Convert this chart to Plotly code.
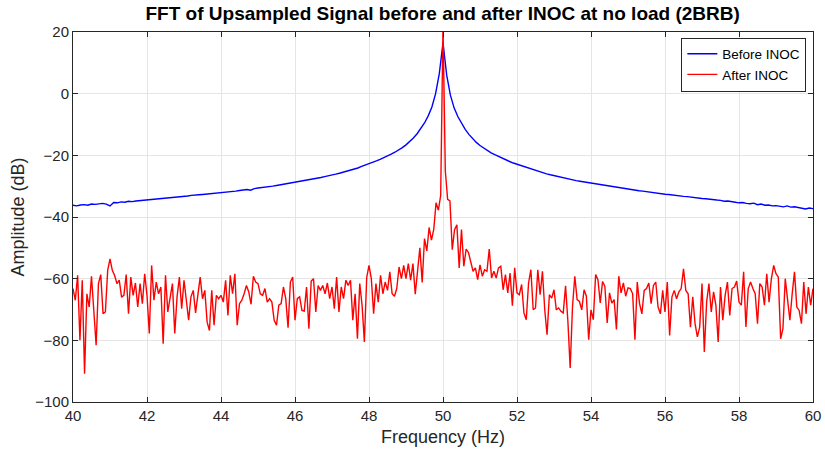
import numpy as np
import plotly.graph_objects as go

# Before INOC (blue), 0.1 Hz bins from 40 to 60 Hz
before_db = [
    -36.2, -36.4, -36.1, -36.0, -36.2, -35.8, -35.9, -35.7, -35.6, -35.8,
    -36.4, -35.3, -35.4, -35.1, -35.2, -34.9, -35.0, -34.8, -34.7, -34.6,
    -34.4, -34.3, -34.3, -34.1, -34.0, -33.9, -33.8, -33.6, -33.6, -33.4,
    -33.3, -33.2, -33.0, -33.0, -32.8, -32.7, -32.6, -32.4, -32.4, -32.2,
    -32.1, -32.0, -31.8, -31.8, -31.6, -31.4, -31.3, -31.1, -31.3, -30.8,
    -30.6, -30.5, -30.3, -30.1, -30.0, -29.8, -29.6, -29.4, -29.2, -29.0,
    -28.8, -28.6, -28.4, -28.1, -27.9, -27.7, -27.4, -27.2, -26.9, -26.7,
    -26.4, -26.1, -25.8, -25.5, -25.2, -24.9, -24.5, -24.1, -23.6, -23.2,
    -22.7, -22.3, -21.8, -21.3, -20.8, -20.2, -19.6, -19.0, -18.3, -17.5,
    -16.6, -15.6, -14.4, -13.0, -11.4, -9.5, -7.2, -4.3, 0.0, 6.5,
    16.5,
    6.0, -0.5, -4.6, -7.4, -9.7, -11.6, -13.2, -14.6, -15.8, -16.8,
    -17.7, -18.5, -19.2, -19.8, -20.4, -21.0, -21.5, -22.0, -22.5, -22.9,
    -23.4, -23.8, -24.2, -24.6, -25.0, -25.4, -25.7, -26.0, -26.3, -26.6,
    -26.9, -27.2, -27.4, -27.7, -27.9, -28.2, -28.4, -28.6, -28.9, -29.1,
    -29.3, -29.5, -29.7, -29.9, -30.1, -30.3, -30.5, -30.6, -30.8, -31.0,
    -31.2, -31.3, -31.5, -31.6, -31.8, -32.0, -32.1, -32.3, -32.5, -32.6,
    -32.7, -32.9, -33.0, -33.2, -33.3, -33.4, -33.6, -33.7, -33.8, -34.0,
    -34.1, -34.3, -34.4, -34.5, -34.6, -34.9, -34.8, -35.1, -35.2, -35.4,
    -35.3, -35.6, -35.7, -35.5, -36.0, -35.8, -36.2, -36.1, -36.4, -36.3,
    -36.5, -36.7, -36.4, -36.8, -36.7, -36.9, -37.0, -37.4, -37.1, -37.3,
]

# After INOC (red), 0.0625 Hz bins from 40 to 60 Hz
after_db = [
    -63.2, -67.0, -58.9, -80.0, -60.5, -90.8, -64.9, -69.2, -59.2, -70.0,
    -81.6, -61.6, -58.7, -71.4, -70.8, -57.3, -53.6, -57.3, -59.0, -61.6,
    -60.5, -66.0, -65.4, -58.7, -71.4, -59.5, -65.4, -61.4, -69.2, -61.6,
    -68.1, -58.4, -65.4, -77.8, -55.7, -67.0, -61.1, -64.9, -62.7, -81.1,
    -58.9, -70.8, -66.5, -61.6, -77.8, -65.9, -59.5, -69.7, -60.5, -67.6,
    -73.5, -65.9, -63.8, -71.1, -65.9, -59.5, -66.5, -63.8, -74.1, -76.8,
    -63.8, -75.1, -65.4, -66.5, -65.4, -67.6, -60.5, -71.9, -58.9, -64.9,
    -58.4, -75.1, -68.1, -67.0, -64.9, -62.2, -64.3, -68.3, -59.2, -61.1,
    -61.6, -64.9, -65.4, -63.2, -67.6, -66.5, -67.6, -73.5, -75.1, -68.6,
    -68.1, -62.7, -66.5, -75.9, -61.1, -59.5, -73.5, -66.5, -65.9, -70.3,
    -70.5, -62.7, -76.2, -60.8, -60.0, -70.8, -62.2, -63.8, -62.2, -64.9,
    -61.4, -66.5, -62.7, -69.7, -59.5, -70.8, -62.7, -66.5, -60.5, -62.2,
    -60.5, -73.5, -64.9, -79.5, -61.6, -68.6, -80.5, -59.7, -55.7, -60.0,
    -71.4, -61.6, -67.6, -58.9, -64.9, -61.1, -63.8, -57.8, -64.9, -65.7,
    -63.2, -56.2, -60.0, -55.7, -60.0, -55.1, -60.5, -55.1, -65.0, -58.4,
    -50.0, -61.2, -47.0, -51.0, -43.4, -47.5, -44.0, -35.4, -37.8, -33.0,
    22.0,
    -25.0, -34.3, -34.8, -50.6, -44.1, -42.5, -56.5, -44.1, -56.0, -50.4,
    -51.5, -54.9, -57.6, -56.5, -60.3, -55.5, -59.2, -57.1, -57.6, -50.4,
    -59.8, -57.6, -59.8, -56.5, -56.0, -63.6, -58.7, -64.6, -58.2, -68.8,
    -56.5, -64.6, -65.2, -61.9, -71.1, -73.3, -61.4, -57.1, -70.1, -69.5,
    -57.1, -65.2, -57.6, -70.1, -78.2, -65.2, -66.3, -63.6, -70.1, -69.5,
    -70.6, -71.1, -62.3, -73.8, -89.0, -69.0, -59.2, -66.8, -67.4, -70.1,
    -63.6, -65.7, -79.8, -70.1, -73.3, -58.7, -60.3, -67.9, -60.9, -62.5,
    -74.4, -64.6, -67.9, -66.8, -76.5, -59.2, -64.6, -61.4, -65.7, -63.0,
    -63.2, -64.9, -79.8, -61.1, -68.1, -71.4, -63.8, -63.2, -61.4, -68.1,
    -62.2, -61.1, -69.2, -71.4, -63.8, -70.8, -61.1, -78.4, -65.9, -63.8,
    -66.5, -64.3, -63.2, -56.8, -63.8, -64.9, -75.7, -65.9, -74.6, -78.9,
    -75.7, -61.6, -83.8, -67.6, -61.6, -70.8, -64.3, -68.6, -80.5, -62.7,
    -73.5, -65.4, -61.1, -71.9, -63.2, -62.7, -60.8, -67.6, -68.6, -57.8,
    -75.7, -63.2, -61.1, -63.2, -64.9, -74.6, -61.6, -62.7, -68.6, -58.4,
    -67.6, -60.0, -55.7, -58.4, -59.5, -79.5, -76.2, -60.0, -67.6, -73.5,
    -64.9, -57.8, -69.2, -70.3, -74.6, -61.1, -71.4, -62.7, -68.6, -63.2,
]

f_min, f_max = 40, 60
before_f = np.linspace(f_min, f_max, len(before_db))
after_f = np.linspace(f_min, f_max, len(after_db))

x_ticks = list(range(40, 61, 2))
y_ticks = list(range(-100, 21, 20))

axis_col = "#262626"
grid_col = "#e5e5e5"
font_family = "Liberation Sans, Arial, sans-serif"

fig = go.Figure()
fig.add_trace(go.Scatter(x=before_f, y=before_db, mode="lines", name="Before INOC",
                         line=dict(color="#0000ff", width=1.4)))
fig.add_trace(go.Scatter(x=after_f, y=after_db, mode="lines", name="After INOC",
                         line=dict(color="#ff0000", width=1.4)))

fig.update_layout(
    width=825, height=456,
    margin=dict(l=73, r=12, t=32, b=54),
    paper_bgcolor="white", plot_bgcolor="white",
    font=dict(family=font_family, size=15, color=axis_col),
    title=dict(text="<b>FFT of Upsampled Signal before and after INOC at no load (2BRB)</b>",
               x=0.5366, xanchor="center", y=0.97, yanchor="middle",
               yref="container", font=dict(size=19, color="black"),
               automargin=False),
    legend=dict(x=0.991, y=0.985, xanchor="right", yanchor="top",
                bgcolor="white", bordercolor=axis_col, borderwidth=1,
                font=dict(size=13.5, color="black"), tracegroupgap=0,
                itemwidth=30),
    showlegend=True,
)
fig.update_xaxes(
    range=[f_min, f_max], tickvals=x_ticks, ticks="inside", ticklen=5,
    tickcolor=axis_col, showline=True, linecolor=axis_col, linewidth=1, mirror="ticks",
    showgrid=True, gridcolor=grid_col, gridwidth=1, zeroline=False, automargin=False,
    title=dict(text="Frequency (Hz)", font=dict(size=18), standoff=7),
    tickfont=dict(size=15),
)
fig.update_yaxes(
    range=[-100, 20], tickvals=y_ticks, ticks="inside", ticklen=5,
    tickcolor=axis_col, showline=True, linecolor=axis_col, linewidth=1, mirror="ticks",
    showgrid=True, gridcolor=grid_col, gridwidth=1, zeroline=False, automargin=False,
    title=dict(text="Amplitude (dB)", font=dict(size=18), standoff=5),
    tickfont=dict(size=15),
)

fig.write_html("out.html")
